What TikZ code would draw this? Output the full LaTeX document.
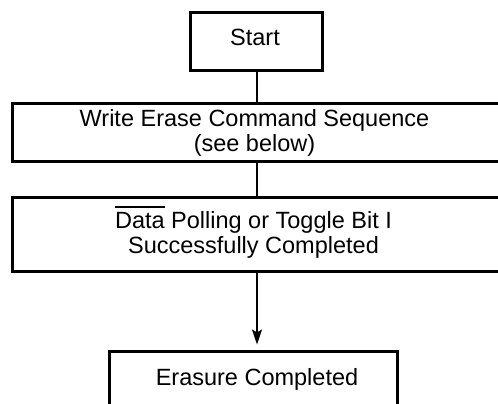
\documentclass[tikz,border=0pt]{standalone}
\usepackage{fontspec}
\setmainfont{Liberation Sans}
\usetikzlibrary{arrows.meta}
\begin{document}
\begin{tikzpicture}[x=1pt,y=-1pt,
  box/.style={draw=black,line width=3pt,rectangle,inner sep=0pt,minimum width=#1},
  txt/.style={anchor=base,inner sep=0pt,font=\fontsize{23.5pt}{25pt}\selectfont},
  conn/.style={draw=black,line width=2pt},
  arr/.style={conn,-{Stealth[length=15pt,width=10pt,inset=3pt]},shorten >=5pt}]
\useasboundingbox (0,0) rectangle (498,404);
\clip (0,0) rectangle (498,404);
% boxes
\node[box=132pt,minimum height=58pt] (start) at (256.5,42) {};
\node[box=488pt,minimum height=58pt] (write) at (256.5,132) {};
\node[box=488pt,minimum height=73.5pt] (poll) at (256.5,234.25) {};
\node[box=288.5pt,minimum height=80pt] (done) at (253.25,391) {};
% texts
\node[txt] (tstart) at (255,46) {Start};
\node[txt] (tw1) at (254.5,126.5) {Write Erase Command Sequence};
\node[txt] (tw2) at (254.5,151.5) {(see below)};
\node[txt] (tp1) at (253.5,228) {\rlap{\rule[20pt]{2.112em}{2pt}}Data Polling or Toggle Bit I};
\node[txt] (tp2) at (253.5,253) {Successfully Completed};
\node[txt] (td) at (257,385) {Erasure Completed};
% connectors
\draw[conn] (start.south -| 257,0) -- (write.north -| 257,0);
\draw[conn] (write.south -| 257,0) -- (poll.north -| 257,0);
\draw[arr] (poll.south -| 257,0) -- (done.north -| 257,0);
\end{tikzpicture}
\end{document}
